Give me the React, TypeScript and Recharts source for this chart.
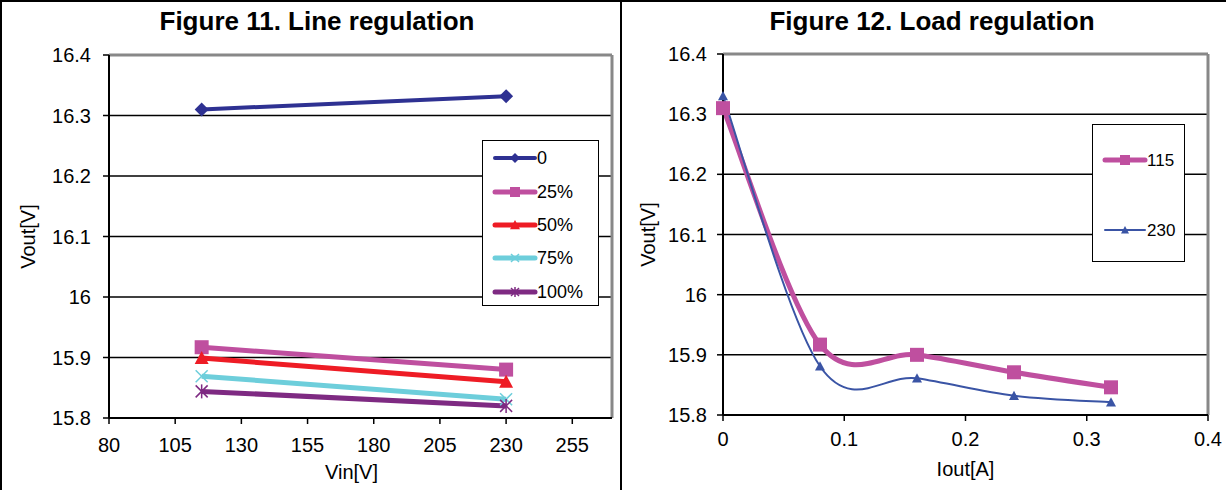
import React from "react";
import {
    CartesianGrid,
    Line,
    LineChart,
    ReferenceLine,
    XAxis,
    YAxis,
} from "recharts";

const FONT = '"Liberation Sans", Arial, Helvetica, sans-serif';

// Figure 11 - line regulation (Vout vs Vin, one line per load)
const vinValues = [115, 230];
const vout0 = [16.31, 16.332];
const vout25 = [15.917, 15.88];
const vout50 = [15.899, 15.86];
const vout75 = [15.869, 15.831];
const vout100 = [15.844, 15.82];
const vinTicks = [80, 105, 130, 155, 180, 205, 230, 255];
const voutTicks = [15.8, 15.9, 16, 16.1, 16.2, 16.3, 16.4];

// Figure 12 - load regulation (Vout vs Iout, one line per input voltage)
const ioutValues = [0, 0.08, 0.16, 0.24, 0.32];
const vout115 = [16.31, 15.917, 15.9, 15.871, 15.846];
const vout230 = [16.33, 15.881, 15.861, 15.832, 15.821];
const ioutTicks = [0, 0.1, 0.2, 0.3, 0.4];

type Shape = "diamond" | "square" | "triangle" | "cross" | "star";

interface Series {
    key: string;
    name: string;
    color: string;
    shape: Shape;
    width: number;
    marker: number;
    values: number[];
}

const lineSeries: Series[] = [
    { key: "l0", name: "0", color: "#2E3192", shape: "diamond", width: 4, marker: 7, values: vout0 },
    { key: "l25", name: "25%", color: "#BF4F9F", shape: "square", width: 5, marker: 7, values: vout25 },
    { key: "l50", name: "50%", color: "#EE1C25", shape: "triangle", width: 5, marker: 7, values: vout50 },
    { key: "l75", name: "75%", color: "#6DCEDB", shape: "cross", width: 5, marker: 6, values: vout75 },
    { key: "l100", name: "100%", color: "#7E2A82", shape: "star", width: 5, marker: 6, values: vout100 },
];

const loadSeries: Series[] = [
    { key: "v115", name: "115", color: "#BF4F9F", shape: "square", width: 5, marker: 7, values: vout115 },
    { key: "v230", name: "230", color: "#3A54A5", shape: "triangle", width: 2, marker: 5, values: vout230 },
];

const lineData = vinValues.map((vin, i) => {
    const row: Record<string, number> = { x: vin };
    lineSeries.forEach((s) => (row[s.key] = s.values[i]));
    return row;
});

const loadData = ioutValues.map((iout, i) => {
    const row: Record<string, number> = { x: iout };
    loadSeries.forEach((s) => (row[s.key] = s.values[i]));
    return row;
});

// Excel style smoothing (Catmull-Rom through the points)
const excelCurve = (context: any) => {
    let pts: [number, number][] = [];
    return {
        areaStart() {},
        areaEnd() {},
        lineStart() {
            pts = [];
        },
        lineEnd() {
            if (!pts.length) return;
            context.moveTo(pts[0][0], pts[0][1]);
            for (let i = 0; i < pts.length - 1; i++) {
                const p0 = pts[i - 1] || pts[i];
                const p1 = pts[i];
                const p2 = pts[i + 1];
                const p3 = pts[i + 2] || p2;
                context.bezierCurveTo(
                    p1[0] + (p2[0] - p0[0]) / 6,
                    p1[1] + (p2[1] - p0[1]) / 6,
                    p2[0] - (p3[0] - p1[0]) / 6,
                    p2[1] - (p3[1] - p1[1]) / 6,
                    p2[0],
                    p2[1]
                );
            }
        },
        point(x: number, y: number) {
            pts.push([x, y]);
        },
    };
};

const Marker = ({ shape, cx, cy, s, color }: { shape: Shape; cx: number; cy: number; s: number; color: string }) => {
    if (cx == null || cy == null) return null;
    switch (shape) {
        case "diamond":
            return <polygon points={`${cx},${cy - s} ${cx + s},${cy} ${cx},${cy + s} ${cx - s},${cy}`} fill={color} />;
        case "square":
            return <rect x={cx - s} y={cy - s} width={2 * s} height={2 * s} fill={color} />;
        case "triangle":
            return <polygon points={`${cx},${cy - s} ${cx + s},${cy + s * 0.85} ${cx - s},${cy + s * 0.85}`} fill={color} />;
        case "cross":
            return (
                <g stroke={color} strokeWidth={1.5}>
                    <line x1={cx - s} y1={cy - s} x2={cx + s} y2={cy + s} />
                    <line x1={cx - s} y1={cy + s} x2={cx + s} y2={cy - s} />
                </g>
            );
        case "star":
            return (
                <g stroke={color} strokeWidth={1.5}>
                    <line x1={cx - s} y1={cy - s} x2={cx + s} y2={cy + s} />
                    <line x1={cx - s} y1={cy + s} x2={cx + s} y2={cy - s} />
                    <line x1={cx} y1={cy - s - 1} x2={cx} y2={cy + s + 1} />
                </g>
            );
        default:
            return null;
    }
};

const tickStyle = { fill: "#000", fontSize: 20, fontFamily: FONT };

const yTitle = (x: number) => (props: any) => {
    const vb = props.viewBox || { y: 0, height: 0 };
    const y = vb.y + vb.height / 2;
    return (
        <text
            x={x}
            y={y}
            transform={`rotate(-90 ${x} ${y})`}
            textAnchor="middle"
            dominantBaseline="central"
            fontSize={20}
            fontFamily={FONT}
            fill="#000"
        >
            Vout[V]
        </text>
    );
};

const xTitle = (text: string, dx: number) => (props: any) => {
    const vb = props.viewBox || { x: 0, y: 0, width: 0 };
    return (
        <text
            x={vb.x + vb.width / 2 + dx}
            y={vb.y + 54}
            textAnchor="middle"
            dominantBaseline="central"
            fontSize={20}
            fontFamily={FONT}
            fill="#000"
        >
            {text}
        </text>
    );
};

const fmt = (v: number) => String(Math.round(v * 10) / 10);

const LegendBox = ({
    series,
    left,
    top,
    width,
    height,
    rows,
    fontSize,
}: {
    series: Series[];
    left: number;
    top: number;
    width: number;
    height: number;
    rows: number[];
    fontSize: number;
}) => (
    <div
        style={{
            position: "absolute",
            left,
            top,
            width,
            height,
            border: "1.5px solid #000",
            background: "#fff",
            boxSizing: "border-box",
        }}
    >
        <svg width={width} height={height} style={{ display: "block" }}>
            {series.map((s, i) => (
                <g key={s.key}>
                    <line x1={12} y1={rows[i]} x2={52} y2={rows[i]} stroke={s.color} strokeWidth={s.width} strokeLinecap="round" />
                    <Marker shape={s.shape} cx={32} cy={rows[i]} s={Math.max(4, s.marker - 2)} color={s.color} />
                    <text x={54} y={rows[i]} dominantBaseline="central" fontSize={fontSize} fontFamily={FONT} fill="#000">
                        {s.name}
                    </text>
                </g>
            ))}
        </svg>
    </div>
);

const Title = ({ text, center }: { text: string; center: number }) => (
    <div
        style={{
            position: "absolute",
            left: center - 250,
            top: 6,
            width: 500,
            textAlign: "center",
            fontFamily: FONT,
            fontWeight: "bold",
            fontSize: 26,
            lineHeight: "30px",
            color: "#000",
        }}
    >
        {text}
    </div>
);

export default function App() {
    return (
        <div
            style={{
                position: "absolute",
                left: 0,
                top: 0,
                width: 1226,
                height: 490,
                background: "#fff",
                overflow: "hidden",
            }}
        >
            <div style={{ position: "absolute", left: 0, top: 0, width: 1226, height: 2, background: "#000" }} />
            <div style={{ position: "absolute", left: 0, top: 0, width: 2, height: 490, background: "#000" }} />
            <div style={{ position: "absolute", left: 620, top: 0, width: 2, height: 490, background: "#000" }} />

            <Title text="Figure 11. Line regulation" center={317} />
            <Title text="Figure 12. Load regulation" center={932} />

            <div style={{ position: "absolute", left: 0, top: 0 }}>
                <LineChart width={620} height={490} data={lineData} margin={{ top: 55, right: 8, bottom: 42, left: 49 }}>
                    <CartesianGrid vertical={false} stroke="#000" strokeWidth={1.5} />
                    <XAxis
                        dataKey="x"
                        type="number"
                        domain={[80, 270]}
                        ticks={vinTicks}
                        interval={0}
                        height={30}
                        tickSize={6}
                        tickMargin={14}
                        tick={tickStyle}
                        axisLine={{ stroke: "#000", strokeWidth: 2 }}
                        tickLine={{ stroke: "#000", strokeWidth: 1.5 }}
                        label={{ content: xTitle("Vin[V]", -9) }}
                    />
                    <YAxis
                        type="number"
                        domain={[15.8, 16.4]}
                        ticks={voutTicks}
                        interval={0}
                        width={60}
                        tickSize={6}
                        tickMargin={12}
                        tick={tickStyle}
                        tickFormatter={fmt}
                        axisLine={{ stroke: "#000", strokeWidth: 2 }}
                        tickLine={{ stroke: "#000", strokeWidth: 1.5 }}
                        label={{ content: yTitle(28) }}
                    />
                    <ReferenceLine y={16.4} stroke="#888" strokeWidth={3} />
                    <ReferenceLine x={270} stroke="#888" strokeWidth={3} />
                    {lineSeries.map((s) => (
                        <Line
                            key={s.key}
                            dataKey={s.key}
                            name={s.name}
                            type="linear"
                            stroke={s.color}
                            strokeWidth={s.width}
                            isAnimationActive={false}
                            activeDot={false}
                            dot={(p: any) => (
                                <Marker key={`${s.key}-${p.index}`} shape={s.shape} cx={p.cx} cy={p.cy} s={s.marker} color={s.color} />
                            )}
                        />
                    ))}
                </LineChart>
            </div>

            <div style={{ position: "absolute", left: 620, top: 0 }}>
                <LineChart width={606} height={490} data={loadData} margin={{ top: 54, right: 18, bottom: 45, left: 43 }}>
                    <CartesianGrid vertical={false} stroke="#000" strokeWidth={1.5} />
                    <XAxis
                        dataKey="x"
                        type="number"
                        domain={[0, 0.4]}
                        ticks={ioutTicks}
                        interval={0}
                        height={30}
                        tickSize={6}
                        tickMargin={11}
                        tick={tickStyle}
                        tickFormatter={fmt}
                        axisLine={{ stroke: "#000", strokeWidth: 2 }}
                        tickLine={{ stroke: "#000", strokeWidth: 1.5 }}
                        label={{ content: xTitle("Iout[A]", 0) }}
                    />
                    <YAxis
                        type="number"
                        domain={[15.8, 16.4]}
                        ticks={voutTicks}
                        interval={0}
                        width={60}
                        tickSize={6}
                        tickMargin={10}
                        tick={tickStyle}
                        tickFormatter={fmt}
                        axisLine={{ stroke: "#000", strokeWidth: 2 }}
                        tickLine={{ stroke: "#000", strokeWidth: 1.5 }}
                        label={{ content: yTitle(28) }}
                    />
                    <ReferenceLine y={16.4} stroke="#888" strokeWidth={3} />
                    <ReferenceLine x={0.4} stroke="#888" strokeWidth={3} />
                    {loadSeries.map((s) => (
                        <Line
                            key={s.key}
                            dataKey={s.key}
                            name={s.name}
                            type={excelCurve as any}
                            stroke={s.color}
                            strokeWidth={s.width}
                            isAnimationActive={false}
                            activeDot={false}
                            dot={(p: any) => (
                                <Marker key={`${s.key}-${p.index}`} shape={s.shape} cx={p.cx} cy={p.cy} s={s.marker} color={s.color} />
                            )}
                        />
                    ))}
                </LineChart>
            </div>

            <LegendBox series={lineSeries} left={482} top={140} width={117} height={166} rows={[17, 51, 84, 117, 151]} fontSize={18} />
            <LegendBox series={loadSeries} left={1092} top={124} width={93} height={138} rows={[35, 105]} fontSize={17} />
        </div>
    );
}
